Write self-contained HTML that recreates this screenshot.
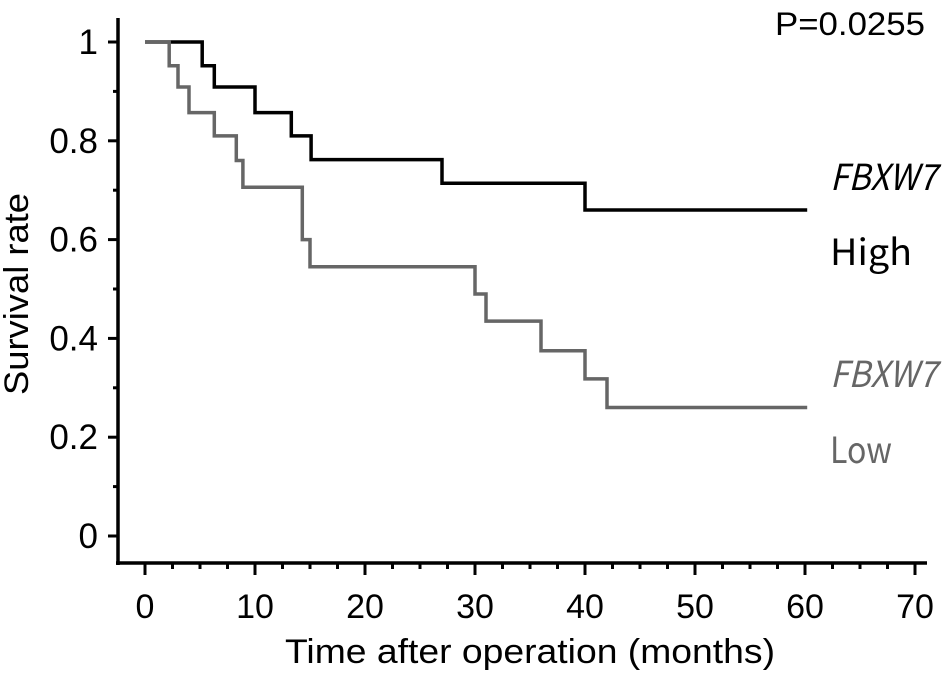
<!DOCTYPE html>
<html><head><meta charset="utf-8"><style>
html,body{margin:0;padding:0;background:#fff;width:945px;height:673px;overflow:hidden}
svg{display:block;font-family:"Liberation Sans",sans-serif}
</style></head><body>
<svg id="chart" width="945" height="673" viewBox="0 0 945 673">
<g id="axes"></g>
<g id="series"></g>
<text x="17" y="294" transform="rotate(-90 17 294)" text-anchor="middle" dominant-baseline="central" font-size="34" textLength="202" lengthAdjust="spacingAndGlyphs">Survival rate</text>
<text x="530" y="663" text-anchor="middle" font-size="34" textLength="490" lengthAdjust="spacingAndGlyphs">Time after operation (months)</text>
<text x="925" y="35" text-anchor="end" font-size="32" textLength="150" lengthAdjust="spacingAndGlyphs">P=0.0255</text>
<g font-family="'Noto Sans CJK JP','Liberation Sans',sans-serif" font-size="36">
<text x="830" y="190" font-style="italic" textLength="107" lengthAdjust="spacingAndGlyphs" fill="#000">FBXW7</text>
<text x="830" y="265" textLength="82" lengthAdjust="spacingAndGlyphs" fill="#000">High</text>
<text x="830" y="387" font-style="italic" textLength="107" lengthAdjust="spacingAndGlyphs" fill="#666">FBXW7</text>
<text x="830" y="463" textLength="62" lengthAdjust="spacingAndGlyphs" fill="#666">Low</text>
</g>
</svg>
<script>
const xTicks = [0,10,20,30,40,50,60,70];
const yTicks = [0,0.2,0.4,0.6,0.8,1];
const yTickLabels = ["0","0.2","0.4","0.6","0.8","1"];
const highTimes = [0,5.2,6.3,10,13.3,15.1,27,40,60.2];
const highValues = [1,0.952,0.909,0.857,0.81,0.762,0.714,0.66,0.66];
const lowTimes = [0,2.2,3,4,6.3,8.3,8.9,14.3,15,30,31,36,40,42,60.2];
const lowValues = [1,0.952,0.909,0.857,0.81,0.76,0.706,0.6,0.545,0.49,0.435,0.375,0.318,0.26,0.26];

const NS="http://www.w3.org/2000/svg";
const X = t => 145 + t*11;
const Y = v => 536 - v*494;
const axes=document.getElementById('axes'), ser=document.getElementById('series');
function mk(tag,attrs,parent){const e=document.createElementNS(NS,tag);for(const k in attrs)e.setAttribute(k,attrs[k]);parent.appendChild(e);return e;}

let yl=mk('line',{x1:118,y1:18,x2:118,y2:565,stroke:'#000','stroke-width':3.5},axes);


let xl=mk('line',{x1:116,y1:563,x2:927,y2:563,stroke:'#000','stroke-width':3.5},axes);



for(let i=0;i<=28;i++){const t=i*2.5;const major=i%4===0;
 const tk=mk('line',{x1:X(t),y1:563,x2:X(t),y2:major?575:569,stroke:'#000','stroke-width':3},axes);
 
 }
xTicks.forEach(t=>{const e=mk('text',{x:X(t),y:618,'text-anchor':'middle','font-size':34},axes);e.textContent=t;
 
 });
for(let i=0;i<=10;i++){const v=i*0.1;const major=i%2===0;
 const tk=mk('line',{x1:major?108:113,y1:Y(v),x2:118,y2:Y(v),stroke:'#000','stroke-width':3},axes);
 
 }
yTicks.forEach((v,i)=>{const e=mk('text',{x:98,y:Y(v)+12,'text-anchor':'end','font-size':35},axes);e.textContent=yTickLabels[i];
 
 });

function stepPath(ts,vs){let d=`M${X(ts[0])},${Y(vs[0])}`;for(let i=1;i<ts.length;i++){d+=` H${X(ts[i])} V${Y(vs[i])}`;}return d;}
const hp=mk('path',{d:stepPath(highTimes,highValues),fill:'none',stroke:'#000','stroke-width':3.5},ser);


const lp=mk('path',{d:stepPath(lowTimes,lowValues),fill:'none',stroke:'#666','stroke-width':3.5},ser);


</script>
</body></html>
